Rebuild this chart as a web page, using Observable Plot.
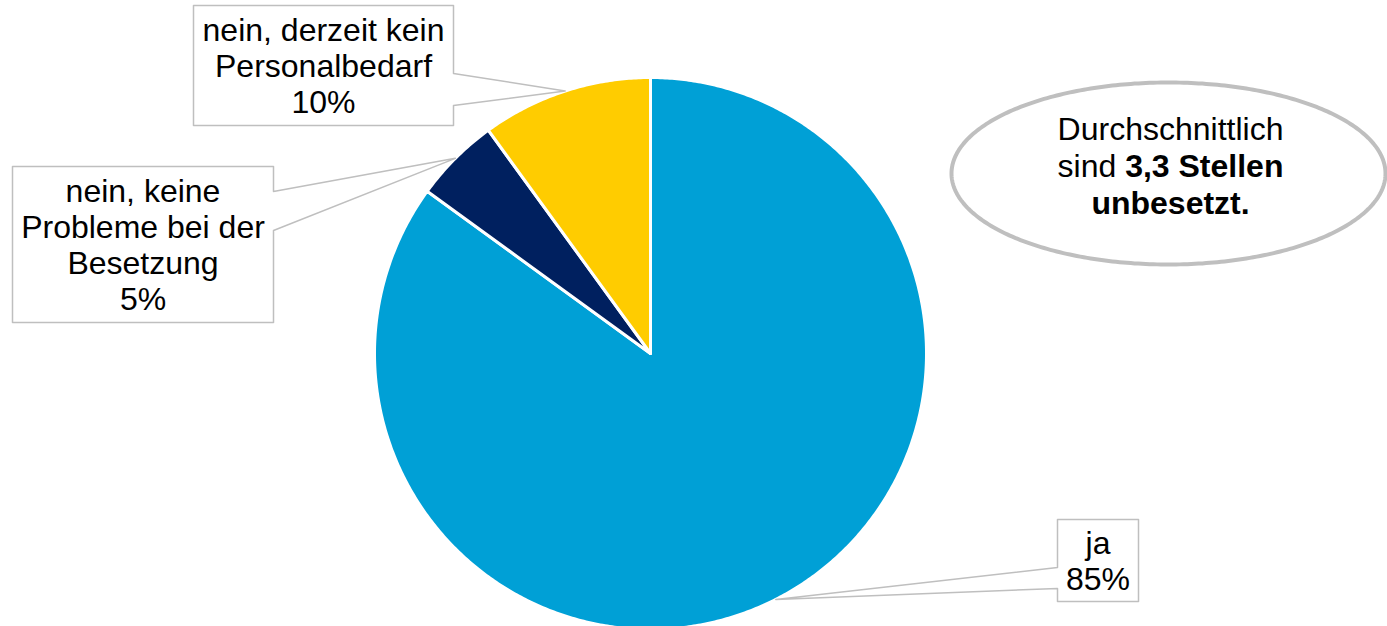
<!DOCTYPE html>
<html><head><meta charset="utf-8">
<script src="https://cdn.jsdelivr.net/npm/d3@7"></script>
<script src="https://cdn.jsdelivr.net/npm/@observablehq/plot@0.6"></script>
<style>html,body{margin:0;padding:0;background:#fff;overflow:hidden} svg{display:block}</style>
</head><body><div id="chart"></div>
<script>
// ---- data ----
const categories = ["ja", "nein, keine Probleme bei der Besetzung", "nein, derzeit kein Personalbedarf"];
const values = [85, 5, 10];
const colors = ["#00A0D6", "#00205F", "#FFCC00"];
const labelTexts = ["ja", "nein, keine\nProbleme bei der\nBesetzung", "nein, derzeit kein\nPersonalbedarf"];
const noteLine1 = "Durchschnittlich";
const noteLine2a = "sind";
const noteLine2b = "3,3 Stellen";
const noteLine3 = "unbesetzt.";

// ---- layout ----
const W = 1387, H = 626, cx = 650, cy = 353, R = 276;
const FONT = "'Liberation Sans', Arial, sans-serif";
const FS = 32;
const boxes = [
  {x1: 1057, x2: 1138, y1: 519, y2: 601, side: "left", b0: 567, b1: 588},
  {x1: 12, x2: 273, y1: 166, y2: 322, side: "right", b0: 191, b1: 230},
  {x1: 193, x2: 453, y1: 5, y2: 125, side: "right", b0: 73, b1: 105}
];
const ell = {cx: 1168, cy: 173, rx: 217, ry: 91};
const noteX = 1170, noteY = 166, noteDy = 37;

const total = d3.sum(values);
let acc = 0;
const slices = values.map((v, i) => {
  const a0 = acc / total * 2 * Math.PI; acc += v;
  const a1 = acc / total * 2 * Math.PI;
  return {cat: categories[i], v, a0, a1, mid: (a0 + a1) / 2, i};
});
const pt = (a, r) => [cx + r * Math.sin(a), cy - r * Math.cos(a)];

const slicePts = slices.flatMap(s => {
  const n = Math.max(2, Math.ceil((s.a1 - s.a0) / (Math.PI / 360)));
  const pts = [{cat: s.cat, x: cx, y: cy}];
  for (let k = 0; k <= n; k++) {
    const [x, y] = pt(s.a0 + (s.a1 - s.a0) * k / n, R);
    pts.push({cat: s.cat, x, y});
  }
  return pts;
});

const calloutPts = slices.flatMap(s => {
  const b = boxes[s.i];
  const [tx, ty] = pt(s.mid, R);
  const P = (x, y) => ({cat: s.cat, x, y});
  if (b.side === "right") {
    return [P(b.x1, b.y1), P(b.x2, b.y1), P(b.x2, b.b0), P(tx, ty), P(b.x2, b.b1), P(b.x2, b.y2), P(b.x1, b.y2)];
  } else {
    return [P(b.x1, b.y1), P(b.x2, b.y1), P(b.x2, b.y2), P(b.x1, b.y2), P(b.x1, b.b1), P(tx, ty), P(b.x1, b.b0)];
  }
});

const ellPts = d3.range(0, 361).map(k => {
  const t = k / 360 * 2 * Math.PI;
  return {x: ell.cx + ell.rx * Math.cos(t), y: ell.cy + ell.ry * Math.sin(t)};
});

// measure split for mixed-weight line
const ctx = document.createElement("canvas").getContext("2d");
ctx.font = `${FS}px ${FONT}`;
const wA = ctx.measureText(noteLine2a + " ").width;
const wSp = ctx.measureText(" ").width;
ctx.font = `bold ${FS}px ${FONT}`;
const wB = ctx.measureText(noteLine2b).width;
const start = noteX - (wA + wB) / 2;
const split = start + wA;

const chart = Plot.plot({
  width: W, height: H, margin: 0,
  x: {domain: [0, W], range: [0, W], axis: null},
  y: {domain: [0, H], range: [0, H], axis: null},
  color: {domain: categories, range: colors},
  style: {fontFamily: FONT, background: "white"},
  marks: [
    Plot.line(slicePts, {x: "x", y: "y", z: "cat", fill: "cat", stroke: "white", strokeWidth: 3, strokeLinejoin: "round", curve: "linear-closed"}),
    Plot.line(calloutPts, {x: "x", y: "y", z: "cat", fill: "white", stroke: "#BFBFBF", strokeWidth: 1.5, curve: "linear-closed"}),
    Plot.text(slices, {
      x: s => (boxes[s.i].x1 + boxes[s.i].x2) / 2,
      y: s => (boxes[s.i].y1 + boxes[s.i].y2) / 2,
      text: s => labelTexts[s.i] + "\n" + s.v + "%",
      fontSize: FS, lineHeight: 1.13, fill: "#000", lineAnchor: "middle"
    }),
    Plot.line(ellPts, {x: "x", y: "y", fill: "white", stroke: "#BFBFBF", strokeWidth: 4, curve: "linear-closed"}),
    Plot.text([noteLine1], {x: noteX, y: noteY - noteDy, text: d => d, fontSize: FS, fill: "#000"}),
    Plot.text([noteLine2a], {x: split - wSp, y: noteY, text: d => d, fontSize: FS, fill: "#000", textAnchor: "end"}),
    Plot.text([noteLine2b], {x: split, y: noteY, text: d => d, fontSize: FS, fontWeight: "bold", fill: "#000", textAnchor: "start"}),
    Plot.text([noteLine3], {x: noteX, y: noteY + noteDy, text: d => d, fontSize: FS, fontWeight: "bold", fill: "#000"})
  ]
});
document.getElementById("chart").appendChild(chart);
</script>
</body></html>
